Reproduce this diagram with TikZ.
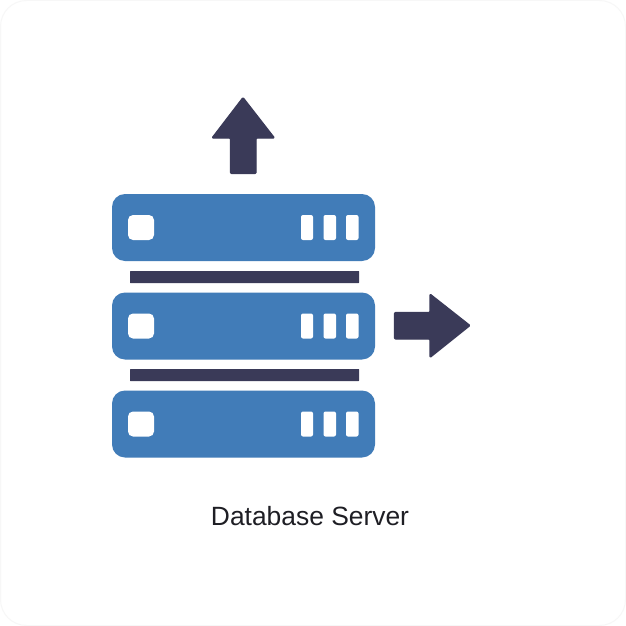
\documentclass[tikz,border=0pt]{standalone}
\usepackage{fontspec}
\setmainfont{Liberation Sans}
\definecolor{srvblue}{HTML}{417CB8}
\definecolor{navy}{HTML}{3A3A58}
\definecolor{cardedge}{HTML}{F7F7F7}
\definecolor{labelink}{HTML}{1E1E24}
\tikzset{
  x=1pt,y=-1pt,
  server/.style={fill=srvblue,rounded corners=13pt},
  led/.style={fill=white,rounded corners=5pt},
  slot/.style={fill=white,rounded corners=2pt},
  bar/.style={fill=navy,rounded corners=0.5pt},
  arrowshape/.style={fill=navy,draw=navy,line width=1.2pt,line join=round,rounded corners=1pt}
}
\newcommand{\serverunit}[1]{%
  \path[server] (112,#1) rectangle (375,#1+67);
  \path[led] (128,#1+21) rectangle (154,#1+46);
  \path[slot] (301,#1+21) rectangle (313,#1+46);
  \path[slot] (323.5,#1+21) rectangle (336,#1+46);
  \path[slot] (346,#1+21) rectangle (358.5,#1+46);
}
\begin{document}
\begin{tikzpicture}
\useasboundingbox (0,0) rectangle (626,626);
\fill[white] (0,0) rectangle (626,626);
\draw[cardedge,line width=1pt,rounded corners=26pt] (0.5,0.5) rectangle (625.5,625.5);
\serverunit{194}
\serverunit{292.5}
\serverunit{390.5}
\path[bar] (130,271) rectangle (359,283);
\path[bar] (130,369) rectangle (359,381);
\path[arrowshape] (243,97.5) -- (274.5,138) -- (256,138) -- (256,173.5) -- (230.5,173.5) -- (230.5,138) -- (212,138) -- cycle;
\path[arrowshape] (470,325.5) -- (430,357.5) -- (430,339) -- (394.5,339) -- (394.5,312.5) -- (430,312.5) -- (430,294) -- cycle;
\node[inner sep=0pt,text=labelink,font=\fontsize{26.4}{30}\selectfont] (label) at (310,516) {Database Server};
\end{tikzpicture}
\end{document}
